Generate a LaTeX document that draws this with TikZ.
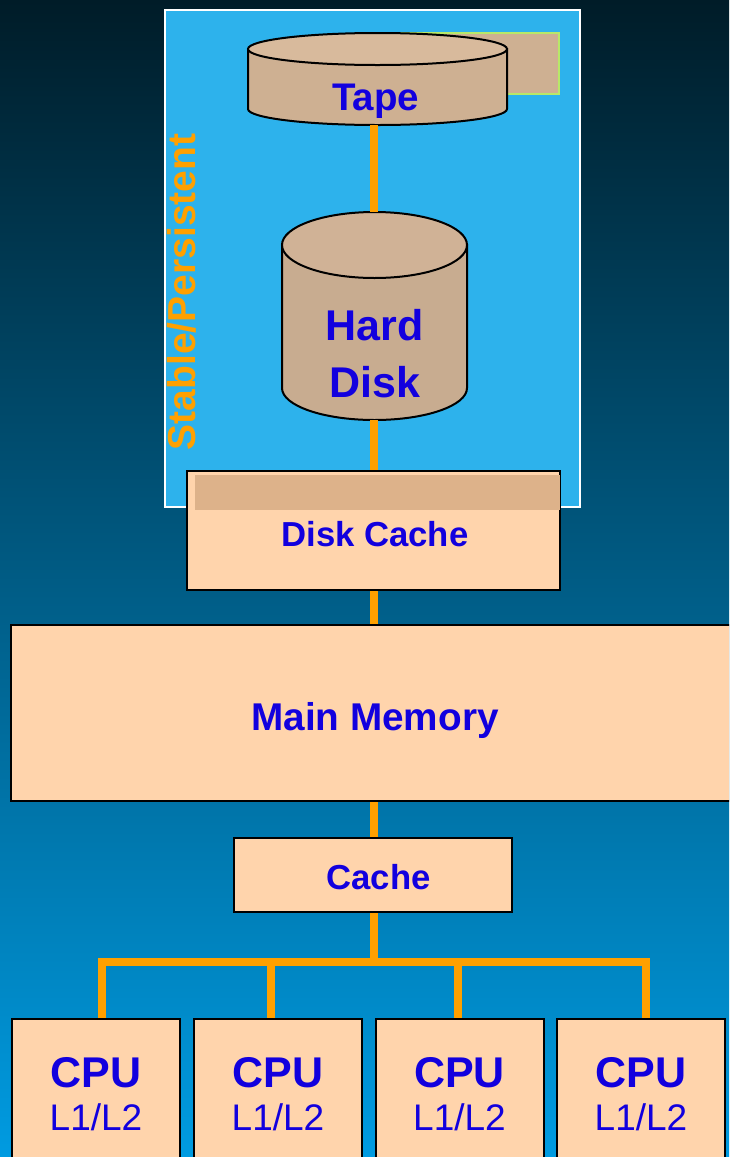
\documentclass[tikz,border=0pt]{standalone}
\usepackage{fontspec}
\setmainfont{Liberation Sans}
\definecolor{bgtop}{RGB}{0,28,40}
\definecolor{bgbot}{RGB}{0,155,225}
\definecolor{stablefill}{RGB}{45,178,236}
\definecolor{boxfill}{RGB}{255,212,172}
\definecolor{headfill}{RGB}{221,178,138}
\definecolor{drumfill}{RGB}{206,176,146}
\definecolor{drumtop}{RGB}{216,186,156}
\definecolor{diskfill}{RGB}{200,172,144}
\definecolor{disktopfill}{RGB}{208,178,150}
\definecolor{limeline}{RGB}{184,232,104}
\definecolor{inkblue}{RGB}{18,0,222}
\definecolor{linkorange}{RGB}{255,160,0}
\tikzset{
        box/.style={draw=black,line width=2pt,fill=boxfill,inner sep=0pt},
        drum/.style={draw=black,line width=2pt,fill=drumfill},
        link/.style={draw=linkorange,line width=8pt},
        txt/.style={text=inkblue,anchor=base,inner sep=0pt,font=\bfseries\fontsize{#1}{#1}\selectfont},
        thin txt/.style={text=inkblue,anchor=base,inner sep=0pt,font=\fontsize{#1}{#1}\selectfont}
}
\begin{document}
\begin{tikzpicture}[x=1pt,y=-1pt]
        \clip (0,0) rectangle (729,1157);
        \shade [top color=bgtop,bottom color=bgbot] (0,0) rectangle (729,1157);
        \node [draw=white,line width=2pt,fill=stablefill,inner sep=0pt,minimum width=415pt,minimum height=497pt] (stable) at (372.5,258.5) {};
        \node [draw=limeline,line width=2pt,fill=drumfill,inner sep=0pt,minimum width=159pt,minimum height=61pt] (tapeback) at (479.5,63.5) {};
        \draw [drum] (248,49) -- (248,109) arc [start angle=180,end angle=360,x radius=129.5pt,y radius=16pt] -- (507,49) -- cycle;
        \draw [drum,fill=drumtop] (377.5,49) ellipse [x radius=129.5pt,y radius=16pt];
        \coordinate (tape) at (373.5,125);
        \draw [drum,fill=diskfill] (282,245) -- (282,388) arc [start angle=180,end angle=360,x radius=92.5pt,y radius=32pt] -- (467,245) -- cycle;
        \draw [drum,fill=disktopfill] (374.5,245) ellipse [x radius=92.5pt,y radius=33pt];
        \coordinate (disktop) at (373.5,212);
        \coordinate (diskbot) at (373.5,420);
        \node [box,minimum width=373pt,minimum height=119pt] (diskcache) at (373.5,530.5) {};
        \node [fill=headfill,inner sep=0pt,minimum width=365pt,minimum height=35pt] (diskhead) at (377.5,492.5) {};
        \node [box,minimum width=728pt,minimum height=176pt] (main) at (375,713) {};
        \node [box,minimum width=278pt,minimum height=74pt] (cache) at (373,875) {};
        \node [box,minimum width=168pt,minimum height=170pt] (cpua) at (96,1104) {};
        \node [box,minimum width=168pt,minimum height=170pt] (cpub) at (278,1104) {};
        \node [box,minimum width=168pt,minimum height=170pt] (cpuc) at (459.5,1104) {};
        \node [box,minimum width=168pt,minimum height=170pt] (cpud) at (641,1104) {};
        \coordinate (stem) at (373.5,962);
        \coordinate (busa) at (102,962);
        \coordinate (busb) at (271,962);
        \coordinate (busc) at (458,962);
        \coordinate (busd) at (646,962);
        \draw [link] (tape) -- (disktop);
        \draw [link] (diskbot) -- (stem |- diskcache.north);
        \draw [link] (stem |- diskcache.south) -- (stem |- main.north);
        \draw [link] (stem |- main.south) -- (stem |- cache.north);
        \draw [link] (stem |- cache.south) -- (stem);
        \draw [link] (busa |- cpua.north) -- (busa) -- (busd) -- (busd |- cpud.north);
        \draw [link] (busb) -- (busb |- cpub.north);
        \draw [link] (busc) -- (busc |- cpuc.north);
        \node [txt=38.5] (tapetxt) at (375.5,110) {Tape};
        \node [txt=43] (hardtxt) at (374.5,340.5) {Hard};
        \node [txt=43] (disktxt) at (375,397) {Disk};
        \node [txt=34.7] (diskcachetxt) at (375,546) {Disk Cache};
        \node [txt=38.7] (maintxt) at (375,730) {Main Memory};
        \node [txt=34.7] (cachetxt) at (378.5,889) {Cache};
        \node [txt=43] (cpuatxt) at (96,1087) {CPU};
        \node [txt=43] (cpubtxt) at (278,1087) {CPU};
        \node [txt=43] (cpuctxt) at (459.5,1087) {CPU};
        \node [txt=43] (cpudtxt) at (641,1087) {CPU};
        \node [thin txt=37] (cacheatxt) at (96,1130) {L1/L2};
        \node [thin txt=37] (cachebtxt) at (278,1130) {L1/L2};
        \node [thin txt=37] (cachectxt) at (459.5,1130) {L1/L2};
        \node [thin txt=37] (cachedtxt) at (641,1130) {L1/L2};
        \node [txt=39,text=linkorange,rotate=90] (stabletxt) at (195,292) {Stable/Persistent};
\end{tikzpicture}
\end{document}
